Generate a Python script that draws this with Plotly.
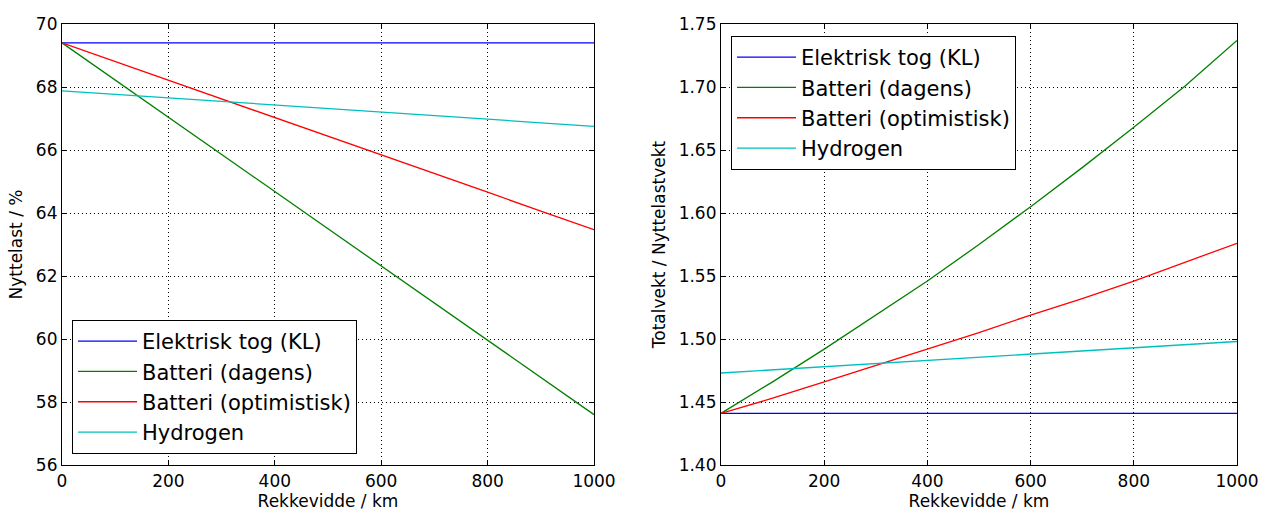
import plotly.graph_objects as go

# ---- data ----
range_km = [0, 100, 200, 300, 400, 500, 600, 700, 800, 900, 1000]

series_names = ["Elektrisk tog (KL)", "Batteri (dagens)", "Batteri (optimistisk)", "Hydrogen"]
series_colors = ["#0000ff", "#008000", "#ff0000", "#00bfbf"]

# Left panel: Nyttelast / %
payload_el = [69.4, 69.4, 69.4, 69.4, 69.4, 69.4, 69.4, 69.4, 69.4, 69.4, 69.4]
payload_bat_now = [69.4, 68.22, 67.04, 65.86, 64.68, 63.5, 62.32, 61.14, 59.96, 58.78, 57.6]
payload_bat_opt = [69.4, 68.81, 68.21, 67.62, 67.03, 66.43, 65.84, 65.25, 64.66, 64.06, 63.47]
payload_h2 = [67.88, 67.77, 67.66, 67.54, 67.43, 67.32, 67.2, 67.09, 66.98, 66.86, 66.75]

# Right panel: Totalvekt / Nyttelastvekt
ratio_el = [1.441, 1.441, 1.441, 1.441, 1.441, 1.441, 1.441, 1.441, 1.441, 1.441, 1.441]
ratio_bat_now = [1.441, 1.466, 1.492, 1.519, 1.546, 1.575, 1.605, 1.636, 1.668, 1.701, 1.737]
ratio_bat_opt = [1.441, 1.453, 1.466, 1.479, 1.492, 1.505, 1.519, 1.532, 1.546, 1.561, 1.576]
ratio_h2 = [1.473, 1.4755, 1.478, 1.4805, 1.483, 1.4855, 1.488, 1.4905, 1.493, 1.4955, 1.498]

left_series = [payload_el, payload_bat_now, payload_bat_opt, payload_h2]
right_series = [ratio_el, ratio_bat_now, ratio_bat_opt, ratio_h2]

left_yticks = [56, 58, 60, 62, 64, 66, 68, 70]
right_yticks = [1.40, 1.45, 1.50, 1.55, 1.60, 1.65, 1.70, 1.75]
xticks = [0, 200, 400, 600, 800, 1000]

FONT = "DejaVu Sans"
W, H = 1261, 511


def px_x(p):
    return p / W


def px_y(p):
    return 1 - p / H


fig = go.Figure()
for name, color, ys in zip(series_names, series_colors, left_series):
    fig.add_trace(go.Scatter(x=range_km, y=ys, mode="lines", name=name,
                             line=dict(color=color, width=1.3),
                             xaxis="x", yaxis="y", legend="legend"))
for name, color, ys in zip(series_names, series_colors, right_series):
    fig.add_trace(go.Scatter(x=range_km, y=ys, mode="lines", name=name,
                             line=dict(color=color, width=1.3),
                             xaxis="x2", yaxis="y2", legend="legend2"))

axis_common = dict(
    showline=True, linecolor="black", linewidth=1.2, mirror="ticks",
    ticks="inside", ticklen=5, tickcolor="black", tickwidth=1,
    showgrid=True, gridcolor="black", griddash="1px,3px", gridwidth=1,
    zeroline=False, tickfont=dict(family=FONT, size=17, color="black"),
    automargin=False, ticklabeloverflow="allow",
)

left_dom = [px_x(62), px_x(594)]
right_dom = [px_x(721), px_x(1237)]
y_dom = [px_y(465), px_y(24)]

legend_common = dict(
    bgcolor="white", bordercolor="black", borderwidth=1,
    font=dict(family=FONT, size=21, color="black"),
    itemwidth=59, tracegroupgap=0,
)

title_font = dict(family=FONT, size=17, color="black")

fig.update_layout(
    width=W, height=H,
    margin=dict(l=0, r=0, t=0, b=0),
    paper_bgcolor="white", plot_bgcolor="white",
    font=dict(family=FONT, color="black"),
    xaxis=dict(axis_common, domain=left_dom, range=[0, 1000], tickvals=xticks,
               title=dict(text="Rekkevidde / km", font=title_font, standoff=17),
               anchor="y"),
    yaxis=dict(axis_common, domain=y_dom, range=[56, 70], tickvals=left_yticks,
               title=dict(text="Nyttelast / %", font=title_font, standoff=8),
               anchor="x"),
    xaxis2=dict(axis_common, domain=right_dom, range=[0, 1000], tickvals=xticks,
                title=dict(text="Rekkevidde / km", font=title_font, standoff=17),
                anchor="y2"),
    yaxis2=dict(axis_common, domain=y_dom, range=[1.40, 1.75], tickvals=right_yticks,
                tickformat=".2f",
                title=dict(text="Totalvekt / Nyttelastvekt", font=title_font, standoff=8),
                anchor="x2"),
    legend=dict(legend_common, x=px_x(72), y=px_y(454), xanchor="left", yanchor="bottom"),
    legend2=dict(legend_common, x=px_x(731), y=px_y(36), xanchor="left", yanchor="top"),
    showlegend=True,
)

fig.write_html(
    "out.html",
    config={"displayModeBar": False},
    post_script="document.body.style.margin='0';document.body.style.overflow='hidden';",
)
